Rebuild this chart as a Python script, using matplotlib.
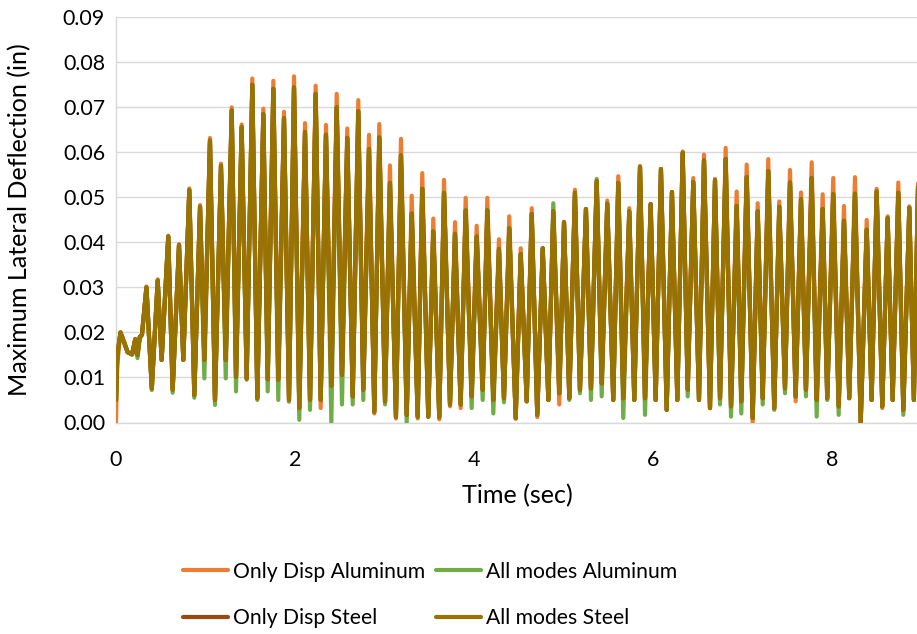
import matplotlib
matplotlib.use("Agg")
import matplotlib.pyplot as plt
import numpy as np

# ---------------------------------------------------------------------------
# Data: maximum lateral deflection (in) vs time (sec)
# The response is stored as its successive extremes: the start-up transient,
# then alternating peaks and troughs of the oscillation.
# ---------------------------------------------------------------------------
t_start = [0.0, 0.015, 0.05, 0.09, 0.13, 0.18, 0.215, 0.24, 0.265, 0.29]
start_disp_alu = [0.0000, 0.0130, 0.0200, 0.0180, 0.0157, 0.0152, 0.0185, 0.0150, 0.0190, 0.0195]
start_all_alu = [0.0050, 0.0150, 0.0200, 0.0178, 0.0156, 0.0150, 0.0183, 0.0143, 0.0185, 0.0195]
start_steel = [0.0050, 0.0150, 0.0200, 0.0178, 0.0156, 0.0152, 0.0185, 0.0150, 0.0190, 0.0195]

t_peak = [0.340, 0.466, 0.584, 0.704, 0.819, 0.939, 1.050, 1.173, 1.293, 1.404,
          1.523, 1.646, 1.758, 1.877, 1.989, 2.112, 2.231, 2.346, 2.466, 2.584,
          2.707, 2.827, 2.942, 3.061, 3.184, 3.304, 3.422, 3.545, 3.665, 3.788,
          3.907, 4.030, 4.149, 4.279, 4.394, 4.522, 4.645, 4.768, 4.886, 5.006,
          5.128, 5.251, 5.371, 5.489, 5.612, 5.735, 5.855, 5.974, 6.089, 6.212,
          6.332, 6.450, 6.570, 6.693, 6.812, 6.935, 7.047, 7.170, 7.288, 7.411,
          7.531, 7.654, 7.773, 7.896, 8.014, 8.134, 8.257, 8.388, 8.499, 8.622,
          8.741, 8.864]
t_trough = [0.400, 0.510, 0.633, 0.752, 0.875, 0.987, 1.106, 1.226, 1.341, 1.460,
            1.579, 1.695, 1.813, 1.933, 2.048, 2.168, 2.287, 2.406, 2.525, 2.645,
            2.763, 2.886, 3.006, 3.128, 3.248, 3.371, 3.489, 3.612, 3.732, 3.851,
            3.974, 4.097, 4.216, 4.335, 4.466, 4.589, 4.707, 4.831, 4.953, 5.065,
            5.184, 5.307, 5.427, 5.556, 5.668, 5.791, 5.911, 6.030, 6.153, 6.272,
            6.388, 6.514, 6.637, 6.749, 6.872, 6.987, 7.114, 7.226, 7.355, 7.475,
            7.594, 7.709, 7.829, 7.947, 8.075, 8.193, 8.321, 8.443, 8.562, 8.678,
            8.797, 8.915]

# Only Disp Aluminum
peak_disp_alu = [0.0302, 0.0318, 0.0415, 0.0396, 0.0520, 0.0483, 0.0632, 0.0575, 0.0700, 0.0662,
                 0.0764, 0.0697, 0.0759, 0.0690, 0.0769, 0.0665, 0.0748, 0.0661, 0.0730, 0.0653,
                 0.0716, 0.0639, 0.0663, 0.0571, 0.0630, 0.0504, 0.0554, 0.0453, 0.0539, 0.0445,
                 0.0499, 0.0437, 0.0499, 0.0407, 0.0458, 0.0387, 0.0476, 0.0387, 0.0469, 0.0445,
                 0.0517, 0.0474, 0.0536, 0.0493, 0.0547, 0.0476, 0.0570, 0.0485, 0.0563, 0.0512,
                 0.0602, 0.0543, 0.0595, 0.0541, 0.0610, 0.0513, 0.0573, 0.0487, 0.0585, 0.0491,
                 0.0561, 0.0511, 0.0578, 0.0507, 0.0543, 0.0481, 0.0545, 0.0450, 0.0519, 0.0458,
                 0.0533, 0.0480]
trough_disp_alu = [0.0076, 0.0139, 0.0073, 0.0139, 0.0061, 0.0139, 0.0050, 0.0139, 0.0102, 0.0098,
                   0.0054, 0.0096, 0.0095, 0.0050, 0.0032, 0.0050, 0.0032, 0.0082, 0.0106, 0.0058,
                   0.0073, 0.0020, 0.0047, 0.0009, 0.0017, 0.0009, 0.0013, 0.0007, 0.0036, 0.0032,
                   0.0058, 0.0073, 0.0050, 0.0054, 0.0008, 0.0047, 0.0012, 0.0050, 0.0040, 0.0054,
                   0.0073, 0.0076, 0.0087, 0.0050, 0.0054, 0.0050, 0.0054, 0.0050, 0.0028, 0.0050,
                   0.0073, 0.0050, 0.0032, 0.0054, 0.0036, 0.0047, 0.0000, 0.0054, 0.0032, 0.0076,
                   0.0047, 0.0073, 0.0050, 0.0054, 0.0036, 0.0054, 0.0000, 0.0050, 0.0032, 0.0050,
                   0.0028, 0.0050]

# All modes Aluminum
peak_all_alu = [0.0300, 0.0315, 0.0413, 0.0394, 0.0516, 0.0479, 0.0626, 0.0570, 0.0693, 0.0656,
                0.0750, 0.0685, 0.0741, 0.0676, 0.0744, 0.0645, 0.0730, 0.0639, 0.0700, 0.0632,
                0.0691, 0.0607, 0.0633, 0.0532, 0.0593, 0.0464, 0.0519, 0.0424, 0.0510, 0.0419,
                0.0471, 0.0413, 0.0471, 0.0385, 0.0431, 0.0374, 0.0463, 0.0387, 0.0487, 0.0445,
                0.0510, 0.0474, 0.0541, 0.0486, 0.0532, 0.0469, 0.0567, 0.0485, 0.0563, 0.0512,
                0.0599, 0.0534, 0.0582, 0.0538, 0.0585, 0.0481, 0.0545, 0.0469, 0.0558, 0.0479,
                0.0533, 0.0496, 0.0543, 0.0474, 0.0507, 0.0448, 0.0508, 0.0428, 0.0513, 0.0454,
                0.0510, 0.0477]
trough_all_alu = [0.0072, 0.0139, 0.0066, 0.0139, 0.0055, 0.0098, 0.0039, 0.0098, 0.0069, 0.0095,
                  0.0050, 0.0069, 0.0050, 0.0046, 0.0006, 0.0028, 0.0050, 0.0000, 0.0040, 0.0040,
                  0.0050, 0.0024, 0.0040, 0.0013, 0.0000, 0.0013, 0.0013, 0.0012, 0.0040, 0.0040,
                  0.0032, 0.0050, 0.0020, 0.0045, 0.0010, 0.0047, 0.0017, 0.0050, 0.0065, 0.0050,
                  0.0065, 0.0050, 0.0058, 0.0050, 0.0010, 0.0050, 0.0017, 0.0050, 0.0028, 0.0050,
                  0.0058, 0.0050, 0.0032, 0.0040, 0.0013, 0.0020, 0.0010, 0.0040, 0.0028, 0.0065,
                  0.0058, 0.0058, 0.0013, 0.0050, 0.0017, 0.0054, 0.0000, 0.0050, 0.0036, 0.0050,
                  0.0017, 0.0050]

# Steel (Only Disp and All modes coincide)
peak_steel = [0.0300, 0.0315, 0.0413, 0.0394, 0.0516, 0.0479, 0.0626, 0.0570, 0.0693, 0.0656,
              0.0750, 0.0685, 0.0741, 0.0676, 0.0744, 0.0645, 0.0730, 0.0639, 0.0700, 0.0632,
              0.0691, 0.0607, 0.0633, 0.0532, 0.0593, 0.0464, 0.0519, 0.0424, 0.0510, 0.0419,
              0.0471, 0.0413, 0.0471, 0.0385, 0.0431, 0.0374, 0.0463, 0.0387, 0.0469, 0.0445,
              0.0510, 0.0474, 0.0536, 0.0486, 0.0532, 0.0469, 0.0567, 0.0485, 0.0563, 0.0512,
              0.0599, 0.0534, 0.0582, 0.0538, 0.0585, 0.0481, 0.0545, 0.0469, 0.0558, 0.0479,
              0.0533, 0.0496, 0.0543, 0.0474, 0.0507, 0.0448, 0.0508, 0.0428, 0.0513, 0.0454,
              0.0510, 0.0477]
trough_steel = [0.0076, 0.0139, 0.0073, 0.0139, 0.0061, 0.0139, 0.0050, 0.0139, 0.0102, 0.0098,
                0.0054, 0.0096, 0.0095, 0.0050, 0.0032, 0.0050, 0.0050, 0.0082, 0.0106, 0.0058,
                0.0073, 0.0024, 0.0047, 0.0013, 0.0017, 0.0013, 0.0013, 0.0012, 0.0040, 0.0040,
                0.0058, 0.0073, 0.0050, 0.0054, 0.0010, 0.0047, 0.0017, 0.0050, 0.0065, 0.0054,
                0.0073, 0.0076, 0.0087, 0.0050, 0.0054, 0.0050, 0.0054, 0.0050, 0.0028, 0.0050,
                0.0073, 0.0050, 0.0032, 0.0054, 0.0036, 0.0047, 0.0010, 0.0054, 0.0032, 0.0076,
                0.0058, 0.0073, 0.0050, 0.0054, 0.0036, 0.0054, 0.0000, 0.0050, 0.0036, 0.0050,
                0.0028, 0.0050]

t_end = [8.962]
end_disp_alu = [0.0540]
end_all_alu = [0.0530]
end_steel = [0.0530]

y_ticks = [0.00, 0.01, 0.02, 0.03, 0.04, 0.05, 0.06, 0.07, 0.08, 0.09]
x_ticks = [0, 2, 4, 6, 8]

series_names = ["Only Disp Aluminum", "All modes Aluminum", "Only Disp Steel", "All modes Steel"]
series_colors = ["#ED7D31", "#70AD47", "#9E480E", "#997300"]


def build(start, peaks, troughs, end):
    """Join the start-up transient and alternating extremes into one trace."""
    t = list(t_start)
    v = list(start)
    for tp, vp, tt, vt in zip(t_peak, peaks, t_trough, troughs):
        t += [tp, tt]
        v += [vp, vt]
    t += t_end
    v += end
    return np.array(t), np.array(v)


traces = [
    build(start_disp_alu, peak_disp_alu, trough_disp_alu, end_disp_alu),
    build(start_all_alu, peak_all_alu, trough_all_alu, end_all_alu),
    build(start_steel, peak_steel, trough_steel, end_steel),
    build(start_steel, peak_steel, trough_steel, end_steel),
]

# ---------------------------------------------------------------------------
FAMILY = ["Lato", "DejaVu Sans"]
plt.rcParams["font.family"] = FAMILY
W, H, DPI = 917, 634, 100
fig = plt.figure(figsize=(W / DPI, H / DPI), dpi=DPI)
renderer = fig.canvas.get_renderer()


def fit_size(text, width_px):
    probe = fig.text(0, 0, text, fontsize=10)
    w = probe.get_window_extent(renderer).width
    probe.remove()
    return 10 * width_px / w


tick_fs = fit_size("0.09", 42)
label_fs = fit_size("Time (sec)", 111)
legend_fs = fit_size("Only Disp Aluminum", 191)
legend_em = legend_fs * DPI / 72

x0_px, top_px, bot_px = 116, 17.3, 422.5
ax = fig.add_axes([x0_px / W, 1 - bot_px / H, 1 - x0_px / W, (bot_px - top_px) / H])

handles = []
for (t, v), name, col in zip(traces, series_names, series_colors):
    ln, = ax.plot(t, v, color=col, lw=3.0, solid_joinstyle="round",
                  solid_capstyle="round", label=name, zorder=3)
    handles.append(ln)

ax.set_xlim(0, 8.95)
ax.set_ylim(0, 0.09)
ax.set_yticks(y_ticks)
ax.set_yticklabels([f"{v:.2f}" for v in y_ticks])
ax.set_xticks(x_ticks)
ax.set_xticklabels([str(v) for v in x_ticks])
ax.grid(axis="y", color="#D9D9D9", lw=1.0, zorder=0)
ax.set_axisbelow(True)
for side in ["top", "right"]:
    ax.spines[side].set_visible(False)
for side in ["left", "bottom"]:
    ax.spines[side].set_color("#D9D9D9")
    ax.spines[side].set_linewidth(1.0)
ax.tick_params(axis="both", length=0, labelsize=tick_fs, colors="#000000")
ax.tick_params(axis="x", pad=28 * 72 / DPI)
ax.tick_params(axis="y", pad=11 * 72 / DPI)

fig.text(517 / W, 1 - 496 / H, "Time (sec)", ha="center", va="center", fontsize=label_fs)
fig.text(20 / W, 1 - 220 / H, "Maximum Lateral Deflection (in)", ha="center", va="center",
         rotation=90, fontsize=label_fs)

order = [0, 2, 1, 3]  # two columns: Only Disp | All modes
leg = fig.legend([handles[i] for i in order], [series_names[i] for i in order],
                 ncol=2, frameon=False, fontsize=legend_fs,
                 handlelength=45 / legend_em, handletextpad=5 / legend_em,
                 columnspacing=10 / legend_em, labelspacing=1.28,
                 loc="center", bbox_to_anchor=(430 / W, 1 - 595 / H))
for lh in leg.get_lines():
    lh.set_linewidth(3.0)

fig.savefig("out.png", dpi=DPI)
